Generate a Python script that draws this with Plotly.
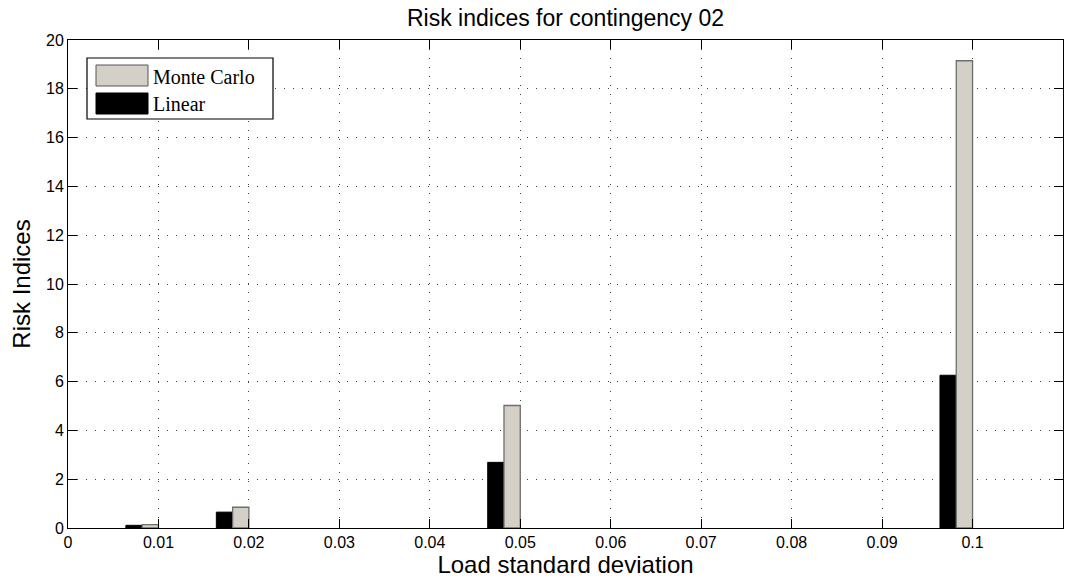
import plotly.graph_objects as go

load_sd = [0.01, 0.02, 0.05, 0.1]
linear = [0.11, 0.65, 2.69, 6.26]
monte_carlo = [0.14, 0.85, 5.02, 19.15]
x_ticks = [0, 0.01, 0.02, 0.03, 0.04, 0.05, 0.06, 0.07, 0.08, 0.09, 0.1]
x_tick_labels = ["0", "0.01", "0.02", "0.03", "0.04", "0.05", "0.06", "0.07", "0.08", "0.09", "0.1"]
y_ticks = [0, 2, 4, 6, 8, 10, 12, 14, 16, 18, 20]

BW = 0.0018
GREY = "#d4d0c8"
SANS = "Liberation Sans, Arial, Helvetica"
SERIF = "Liberation Serif, Times New Roman"

fig = go.Figure()
fig.add_trace(go.Bar(x=load_sd, y=linear, name="Linear", width=BW, offset=-2 * BW,
                     marker=dict(color="black", line=dict(color="black", width=1)),
                     showlegend=False))
fig.add_trace(go.Bar(x=load_sd, y=monte_carlo, name="Monte Carlo", width=BW, offset=-BW,
                     marker=dict(color=GREY, line=dict(color="#6e6e6e", width=1.3)),
                     showlegend=False))

axis_common = dict(showline=True, linecolor="black", linewidth=1, mirror="ticks",
                   ticks="inside", ticklen=9, tickcolor="black", showgrid=True,
                   gridcolor="#444444", griddash="1px,8px", gridwidth=1, zeroline=False,
                   automargin=False,
                   tickfont=dict(family=SANS, size=16, color="black"))

fig.update_layout(
    width=1066, height=579,
    margin=dict(l=68, r=3, t=40, b=51),
    paper_bgcolor="white", plot_bgcolor="white",
    barmode="overlay",
    title=dict(text="Risk indices for contingency 02", x=0.5, xanchor="center",
               xref="paper",
               y=1 - 18 / 579, yanchor="middle",
               font=dict(family=SANS, size=23, color="black")),
    xaxis=dict(range=[0, 0.11], tickvals=x_ticks, ticktext=x_tick_labels,
               title=dict(text="Load standard deviation", standoff=0,
                          font=dict(family=SANS, size=24, color="black")),
               **axis_common),
    yaxis=dict(range=[0, 20], tickvals=y_ticks,
               title=dict(text="Risk Indices", standoff=8,
                          font=dict(family=SANS, size=24, color="black")),
               **axis_common),
)

# Custom legend (MATLAB-style, wide swatches)
L, R, T, B = 68, 1063, 40, 528
def px(x):
    return (x - L) / (R - L)
def py(y):
    return (B - y) / (B - T)

fig.add_shape(type="rect", xref="paper", yref="paper",
              x0=px(87), x1=px(273), y0=py(119), y1=py(58),
              line=dict(color="black", width=1.2), fillcolor="white", layer="above")
fig.add_shape(type="rect", xref="paper", yref="paper",
              x0=px(96), x1=px(148), y0=py(86), y1=py(65),
              line=dict(color="#555555", width=1), fillcolor=GREY, layer="above")
fig.add_shape(type="rect", xref="paper", yref="paper",
              x0=px(96), x1=px(148), y0=py(114), y1=py(93),
              line=dict(color="black", width=1), fillcolor="black", layer="above")
fig.add_annotation(xref="paper", yref="paper", x=px(151), y=py(77), text="Monte Carlo",
                   showarrow=False, xanchor="left", yanchor="middle",
                   font=dict(family=SERIF, size=20, color="black"))
fig.add_annotation(xref="paper", yref="paper", x=px(151), y=py(104), text="Linear",
                   showarrow=False, xanchor="left", yanchor="middle",
                   font=dict(family=SERIF, size=20, color="black"))

fig.write_html("out.html")
